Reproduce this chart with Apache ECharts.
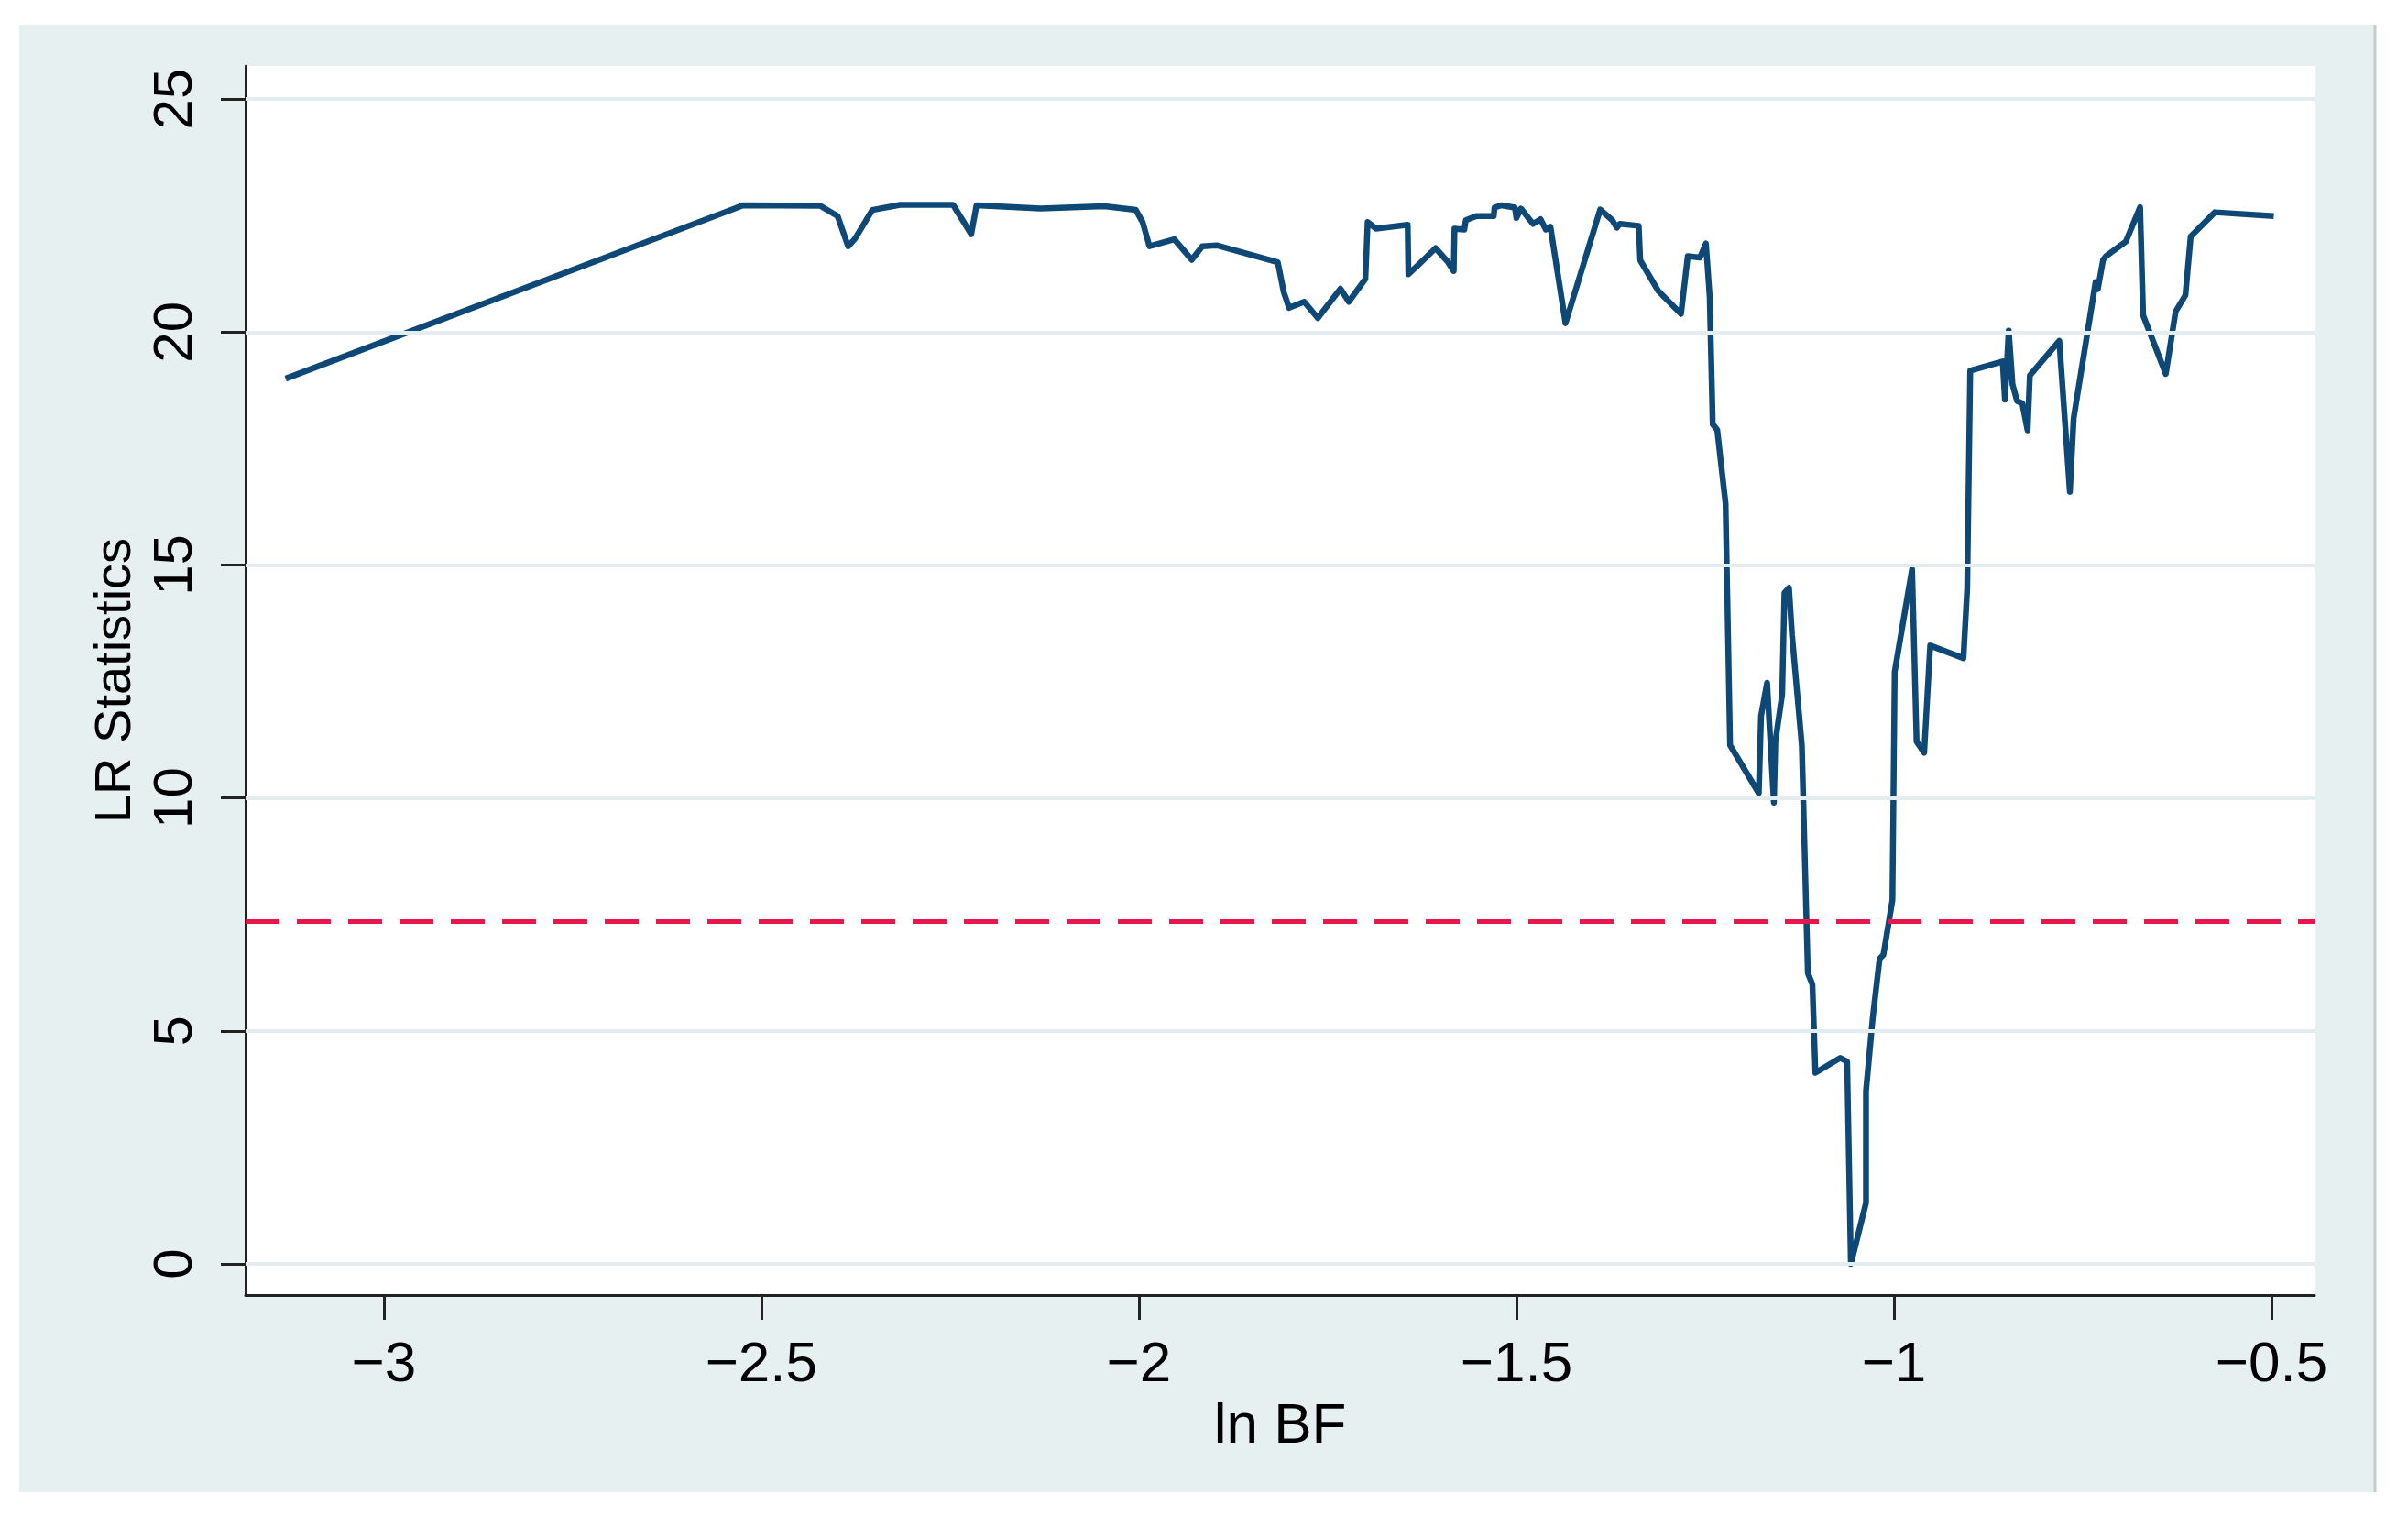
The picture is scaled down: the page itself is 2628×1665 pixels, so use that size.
<!DOCTYPE html>
<html>
<head>
<meta charset="utf-8">
<script src="https://cdn.jsdelivr.net/npm/echarts@6/dist/echarts.min.js"></script>
<style>
html,body{margin:0;padding:0;background:#ffffff;}
#chart{width:2628px;height:1665px;}
</style>
</head>
<body>
<div id="chart"></div>
<script>
// ---- data ----
const lnBF = [
  -3.130, -2.524, -2.422, -2.399, -2.385, -2.376, -2.353, -2.316, -2.246, -2.222,
  -2.215, -2.130, -2.046, -2.004, -1.995, -1.986, -1.953, -1.930, -1.916, -1.897,
  -1.816, -1.808, -1.801, -1.781, -1.763, -1.733, -1.722, -1.700, -1.697, -1.686,
  -1.644, -1.643, -1.630, -1.607, -1.591, -1.583, -1.582, -1.569, -1.567, -1.553,
  -1.530, -1.529, -1.520, -1.502, -1.500, -1.494, -1.478, -1.468, -1.461, -1.455,
  -1.435, -1.389, -1.373, -1.367, -1.363, -1.338, -1.336, -1.312, -1.282, -1.273,
  -1.257, -1.249, -1.244, -1.240, -1.234, -1.223, -1.217, -1.179, -1.176, -1.168,
  -1.165, -1.159, -1.157, -1.148, -1.145, -1.139, -1.135, -1.122, -1.114, -1.108,
  -1.104, -1.071, -1.062, -1.057, -1.037, -1.037, -1.028, -1.019, -1.014, -1.002,
  -0.999, -0.976, -0.970, -0.960, -0.952, -0.908, -0.903, -0.899, -0.856, -0.853,
  -0.848, -0.843, -0.837, -0.830, -0.823, -0.820, -0.781, -0.767, -0.762, -0.733,
  -0.730, -0.723, -0.719, -0.693, -0.674, -0.670, -0.640, -0.627, -0.614, -0.607,
  -0.575, -0.497
];
const lrStat = [
  19.00, 22.72, 22.71, 22.49, 21.84, 22.00, 22.62, 22.73, 22.73, 22.10,
  22.72, 22.65, 22.70, 22.62, 22.36, 21.84, 21.99, 21.55, 21.84, 21.86,
  21.50, 20.85, 20.52, 20.65, 20.30, 20.93, 20.65, 21.14, 22.36, 22.22,
  22.30, 21.24, 21.44, 21.80, 21.51, 21.31, 22.22, 22.20, 22.40, 22.49,
  22.49, 22.67, 22.72, 22.67, 22.45, 22.65, 22.32, 22.42, 22.20, 22.26,
  20.19, 22.63, 22.40, 22.24, 22.32, 22.28, 21.54, 20.88, 20.39, 21.63,
  21.60, 21.90, 20.76, 18.02, 17.90, 16.32, 11.13, 10.10, 11.76, 12.47,
  11.60, 9.90, 11.21, 12.23, 14.40, 14.51, 13.50, 11.13, 6.24, 6.00,
  4.10, 4.42, 4.34, 0.00, 1.31, 3.71, 5.29, 6.55, 6.63, 7.81,
  12.71, 14.91, 11.21, 10.97, 13.27, 13.00, 14.49, 19.17, 19.37, 18.55,
  20.03, 18.88, 18.52, 18.47, 17.89, 19.07, 19.81, 16.57, 18.15, 21.07,
  20.92, 21.55, 21.63, 21.94, 22.68, 20.36, 19.10, 20.44, 20.79, 22.05,
  22.57, 22.49
];
const criticalValue = 7.35;
const xTicks = [-3, -2.5, -2, -1.5, -1, -0.5];
const yTicks = [0, 5, 10, 15, 20, 25];
const xTitle = 'ln BF';
const yTitle = 'LR Statistics';

// ---- chart ----
const chart = echarts.init(document.getElementById('chart'), null, {renderer: 'canvas'});
const FONT = '"Liberation Sans", Arial, Helvetica, sans-serif';
const fmt = v => (v < 0 ? '\u2212' + String(Math.abs(v)) : String(v));

const option = {
  animation: false,
  backgroundColor: '#ffffff',
  graphic: [
    {type: 'rect', z: -10, shape: {x: 21, y: 27, width: 2571, height: 1601}, style: {fill: '#e7f0f1'}},
    {type: 'line', z: -9, shape: {x1: 2592, y1: 27, x2: 2592, y2: 1628}, style: {stroke: '#c3cbcd', lineWidth: 3}}
  ],
  grid: {
    left: 268, top: 72, right: 102, bottom: 252,
    show: true, backgroundColor: '#ffffff', borderWidth: 0
  },
  xAxis: {
    type: 'value', min: -3.183, max: -0.443,
    axisLine: {show: true, onZero: false, lineStyle: {color: '#222', width: 3}},
    axisTick: {show: true, length: 27, customValues: xTicks, lineStyle: {color: '#222', width: 3}},
    axisLabel: {customValues: xTicks, formatter: fmt, margin: 46,
      fontFamily: FONT, fontSize: 62, color: '#000'},
    splitLine: {show: false},
    name: xTitle, nameLocation: 'middle', nameGap: 100,
    nameTextStyle: {fontFamily: FONT, fontSize: 62, color: '#000'}
  },
  yAxis: {
    type: 'value', min: -0.67, max: 25.71,
    axisLine: {show: true, onZero: false, lineStyle: {color: '#222', width: 3}},
    axisTick: {show: true, length: 27, customValues: yTicks, lineStyle: {color: '#222', width: 3}},
    axisLabel: {customValues: yTicks, formatter: fmt, rotate: 90, margin: 46,
      fontFamily: FONT, fontSize: 60, color: '#000'},
    splitLine: {show: false},
    name: yTitle, nameLocation: 'middle', nameGap: 112, nameRotate: 90,
    nameTextStyle: {fontFamily: FONT, fontSize: 56, color: '#000'}
  },
  series: [
    {
      type: 'line', data: [], z: 1, silent: true,
      markLine: {
        silent: true, symbol: 'none', label: {show: false},
        lineStyle: {color: '#e3edef', width: 4, type: 'solid'},
        data: yTicks.map(v => ({yAxis: v}))
      }
    },
    {
      type: 'line', data: [], z: 2, silent: true,
      markLine: {
        silent: true, symbol: 'none', label: {show: false},
        lineStyle: {color: '#e5174b', width: 5, type: [37, 19]},
        data: [{yAxis: criticalValue}]
      }
    },
    {
      type: 'line', z: 3,
      data: lnBF.map((x, i) => [x, lrStat[i]]),
      showSymbol: false, symbol: 'none', smooth: false,
      lineStyle: {color: '#0d4877', width: 6.5, join: 'round'}
    }
  ]
};
chart.setOption(option);
</script>
</body>
</html>
